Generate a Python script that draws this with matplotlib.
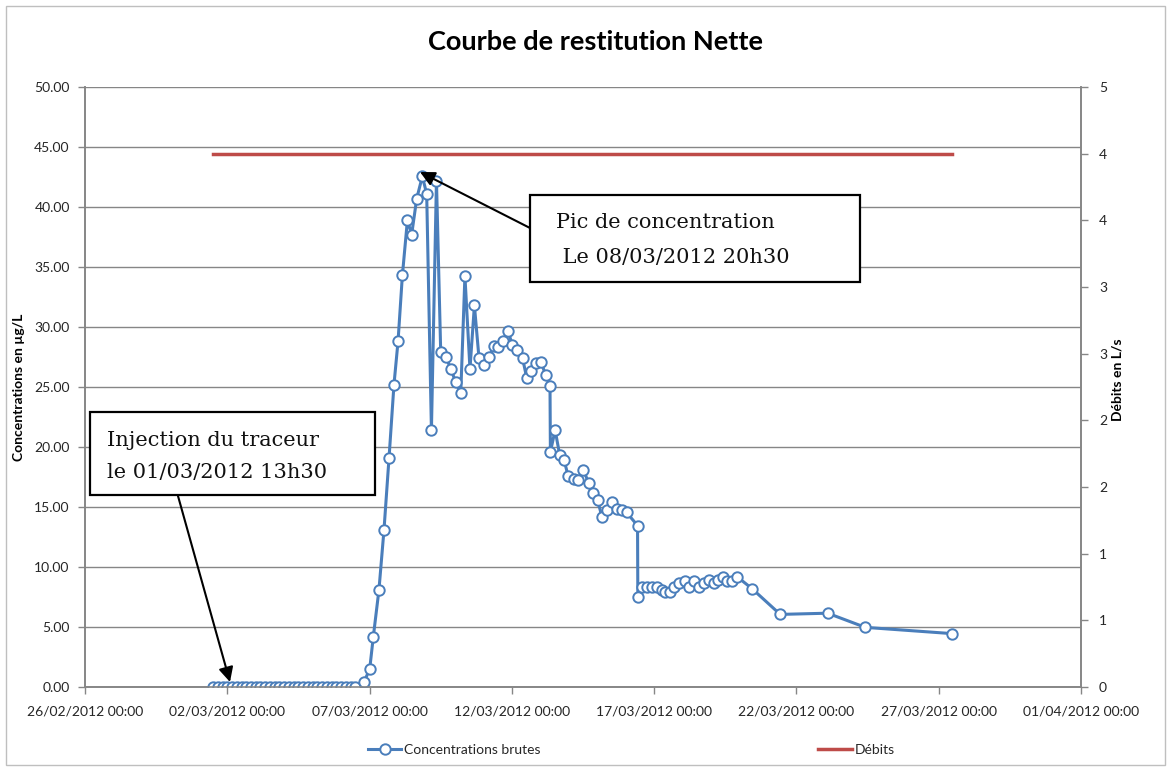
import pandas as pd
import matplotlib
matplotlib.use('Agg')
import matplotlib.pyplot as plt
from matplotlib import font_manager
from matplotlib.lines import Line2D
from matplotlib.patches import Rectangle

# concentrations (µg/L)
dates = [
    "01/03/2012 12:00", "01/03/2012 16:00", "01/03/2012 20:00",
    "02/03/2012 00:00", "02/03/2012 04:00", "02/03/2012 08:00", "02/03/2012 12:00", "02/03/2012 16:00", "02/03/2012 20:00",
    "03/03/2012 00:00", "03/03/2012 04:00", "03/03/2012 08:00", "03/03/2012 12:00", "03/03/2012 16:00", "03/03/2012 20:00",
    "04/03/2012 00:00", "04/03/2012 04:00", "04/03/2012 08:00", "04/03/2012 12:00", "04/03/2012 16:00", "04/03/2012 20:00",
    "05/03/2012 00:00", "05/03/2012 04:00", "05/03/2012 08:00", "05/03/2012 12:00", "05/03/2012 16:00", "05/03/2012 20:00",
    "06/03/2012 00:00", "06/03/2012 04:00", "06/03/2012 08:00", "06/03/2012 12:00",
    "06/03/2012 19:20", "07/03/2012 00:05", "07/03/2012 03:10", "07/03/2012 07:55", "07/03/2012 12:10",
    "07/03/2012 16:25", "07/03/2012 20:35", "08/03/2012 00:00", "08/03/2012 03:40", "08/03/2012 07:55",
    "08/03/2012 11:30", "08/03/2012 15:45", "08/03/2012 20:30", "09/03/2012 00:10", "09/03/2012 04:10",
    "09/03/2012 08:25", "09/03/2012 12:00", "09/03/2012 16:30", "09/03/2012 20:30", "10/03/2012 00:40",
    "10/03/2012 04:55", "10/03/2012 08:25", "10/03/2012 12:40", "10/03/2012 16:25", "10/03/2012 20:15",
    "11/03/2012 00:55", "11/03/2012 05:00", "11/03/2012 08:45", "11/03/2012 12:05", "11/03/2012 16:35",
    "11/03/2012 20:35", "12/03/2012 00:30", "12/03/2012 04:45", "12/03/2012 09:00", "12/03/2012 12:35",
    "12/03/2012 16:25", "12/03/2012 20:35", "13/03/2012 00:35", "13/03/2012 04:35", "13/03/2012 08:10",
    "13/03/2012 08:30", "13/03/2012 12:30", "13/03/2012 16:25", "13/03/2012 20:05", "13/03/2012 23:25",
    "14/03/2012 04:00", "14/03/2012 08:10", "14/03/2012 12:25", "14/03/2012 16:40", "14/03/2012 20:30",
    "15/03/2012 00:15", "15/03/2012 03:55", "15/03/2012 08:05", "15/03/2012 12:20", "15/03/2012 16:30",
    "15/03/2012 20:45", "16/03/2012 00:45", "16/03/2012 10:00", "16/03/2012 10:15", "16/03/2012 13:25",
    "16/03/2012 17:55", "16/03/2012 22:05", "17/03/2012 02:20", "17/03/2012 06:15", "17/03/2012 09:20",
    "17/03/2012 13:30", "17/03/2012 16:55", "17/03/2012 21:05", "18/03/2012 01:55", "18/03/2012 05:30",
    "18/03/2012 09:45", "18/03/2012 14:00", "18/03/2012 18:15", "18/03/2012 21:55", "19/03/2012 02:10",
    "19/03/2012 06:00", "19/03/2012 09:45", "19/03/2012 13:20", "19/03/2012 17:35", "19/03/2012 21:50",
    "20/03/2012 10:30", "21/03/2012 10:20", "23/03/2012 02:20", "24/03/2012 10:05", "27/03/2012 11:00",
]
conc = [0.0] * 31 + [
    0.44, 1.47, 4.2, 8.1, 13.1,
    19.1, 25.2, 28.8, 34.3, 38.9,
    37.7, 40.7, 42.55, 41.1, 21.4,
    42.2, 27.9, 27.5, 26.5, 25.4,
    24.5, 34.25, 26.5, 31.8, 27.45,
    26.8, 27.5, 28.4, 28.35, 28.8,
    29.7, 28.5, 28.1, 27.4, 25.75,
    26.35, 27.0, 27.05, 26.0, 25.1,
    19.6, 21.4, 19.3, 18.9, 17.6,
    17.35, 17.25, 18.1, 17.0, 16.2,
    15.6, 14.2, 14.75, 15.4, 14.8,
    14.75, 14.55, 13.45, 7.5, 8.3,
    8.35, 8.35, 8.3, 8.1, 7.9,
    7.9, 8.35, 8.7, 8.8, 8.35,
    8.85, 8.35, 8.7, 8.9, 8.7,
    8.95, 9.2, 8.85, 8.8, 9.2,
    8.2, 6.05, 6.15, 4.97, 4.45,
]

# débits (L/s)
debit_dates = ["01/03/2012 12:00", "27/03/2012 11:00"]
debits = [4.44, 4.44]

x_start, x_end = "26/02/2012 00:00", "01/04/2012 00:00"

fmt = "%d/%m/%Y %H:%M"
t = pd.to_datetime(dates, format=fmt)
td = pd.to_datetime(debit_dates, format=fmt)
ticks = pd.date_range(pd.to_datetime(x_start, format=fmt), pd.to_datetime(x_end, format=fmt), freq="5D")

names = {f.name for f in font_manager.fontManager.ttflist}
sans = 'Lato' if 'Lato' in names else 'DejaVu Sans'
serif = 'DejaVu Serif'
plt.rcParams['font.family'] = [sans, 'DejaVu Sans']

W, H = 1171, 771
fig = plt.figure(figsize=(W / 100, H / 100), dpi=100)
ax = fig.add_axes([85 / W, 1 - 687 / H, (1081 - 85) / W, 600 / H])
ax2 = ax.twinx()

blue = '#4A7EBB'
red = '#BE4B48'
grey = '#868686'
txt = '#262626'

ax.plot(t, conc, color=blue, lw=2.2, marker='o', ms=7.5, mfc='white', mec=blue, mew=1.4, zorder=3)
ax2.plot(td, debits, color=red, lw=2.5)

ax.set_xlim(ticks[0], ticks[-1])
ax.set_ylim(0, 50)
ax2.set_ylim(0, 5)
ax.set_xticks(ticks)
ax.set_xticklabels([d.strftime("%d/%m/%Y %H:%M") for d in ticks])
ax.set_yticks([i * 5 for i in range(11)])
ax.set_yticklabels([f"{i * 5:.2f}" for i in range(11)])
rticks = [i * 5 / 9 for i in range(10)]
ax2.set_yticks(rticks)
ax2.set_yticklabels([f"{v:.0f}" for v in rticks])

ax.grid(axis='y', color=grey, lw=1)
ax.set_axisbelow(True)
for a in (ax, ax2):
    a.spines['top'].set_visible(False)
    for s in ('left', 'right', 'bottom'):
        a.spines[s].set_color(grey)
        a.spines[s].set_linewidth(1.2)
    a.tick_params(colors=grey, labelcolor=txt, labelsize=10, length=5, width=1)
ax.tick_params(axis='x', pad=8)
ax.tick_params(axis='y', pad=6)
ax2.tick_params(axis='y', pad=8)

fig.text(596 / W, 1 - 42 / H, "Courbe de restitution Nette", ha='center', va='center',
         fontsize=19.5, fontweight='bold', color='black')
fig.text(19 / W, 1 - 387 / H, "Concentrations en µg/L", rotation=90, ha='center', va='center',
         fontsize=10, fontweight='bold', color='black')
fig.text(1118 / W, 1 - 380 / H, "Débits en L/s", rotation=90, ha='center', va='center',
         fontsize=10, fontweight='bold', color='black')

# annotation boxes
def box(x0, y0, x1, y1, lines, tx, ys):
    fig.patches.append(Rectangle((x0 / W, 1 - y1 / H), (x1 - x0) / W, (y1 - y0) / H,
                                 transform=fig.transFigure, fc='white', ec='black', lw=1.6, zorder=5))
    for line, y in zip(lines, ys):
        fig.text(tx / W, 1 - y / H, line, ha='left', va='center', fontsize=15,
                 family=[serif], color='#111111', zorder=6)

box(90, 412, 375, 495, ["Injection du traceur", "le 01/03/2012 13h30"], 107, [440, 472])
box(530, 195, 860, 282, ["Pic de concentration", " Le 08/03/2012 20h30"], 556, [222, 258])

arrow = dict(arrowstyle='-|>', color='black', lw=1.5, mutation_scale=22, shrinkA=0, shrinkB=0)
ax.annotate('', xy=(230, H - 682), xycoords='figure pixels',
            xytext=(178, H - 496), textcoords='figure pixels', arrowprops=arrow, zorder=7)
ax2.annotate('', xy=(420, H - 172), xycoords='figure pixels',
             xytext=(530, H - 228), textcoords='figure pixels', arrowprops=arrow, zorder=7)

handles = [Line2D([], [], color=blue, lw=2.2, marker='o', ms=7.5, mfc='white', mec=blue, mew=1.4),
           Line2D([], [], color=red, lw=2.5)]
fig.legend(handles, ["Concentrations brutes", "Débits"], loc='center left',
           bbox_to_anchor=(368 / W, 1 - 750 / H), ncol=2, frameon=False, fontsize=10,
           handlelength=2.4, handletextpad=0.2, columnspacing=20, borderpad=0, borderaxespad=0,
           labelcolor=txt)

fig.patches.append(Rectangle((6 / W, 6 / H), (W - 12) / W, (H - 12) / H, transform=fig.transFigure,
                             fill=False, ec='#BFBFBF', lw=1))

fig.savefig('out.png', dpi=100)
